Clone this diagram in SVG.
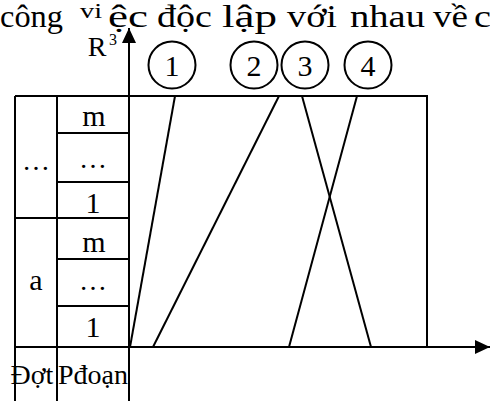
<svg xmlns="http://www.w3.org/2000/svg" width="490" height="401" viewBox="0 0 490 401">
<style>
.t{font-family:"Liberation Serif","Times New Roman",serif;fill:#000;font-size:30px;text-anchor:middle}
.s{font-size:28px}
.h{font-family:"Liberation Serif","Times New Roman",serif;fill:#000;font-size:31px}
.ln{stroke:#000;stroke-width:2;fill:none}
.c{stroke:#000;stroke-width:2;fill:none}
</style>
<defs>
<marker id="ah" markerWidth="15" markerHeight="14" refX="15" refY="7" orient="auto" markerUnits="userSpaceOnUse"><path d="M0,0 L15,7 L0,14 z" fill="#000"/></marker>
</defs>
<rect width="490" height="401" fill="#fff"/>
<g id="header">
<text class="h" x="0" y="27" textLength="63" lengthAdjust="spacingAndGlyphs">công</text>
<text class="h" x="80" y="18" style="font-size:20px" textLength="22" lengthAdjust="spacingAndGlyphs">vi</text>
<text class="h" x="108" y="27" textLength="40" lengthAdjust="spacingAndGlyphs">ệc</text>
<text class="h" x="157" y="27" textLength="55" lengthAdjust="spacingAndGlyphs">độc</text>
<text class="h" x="222" y="27" textLength="55" lengthAdjust="spacingAndGlyphs">lập</text>
<text class="h" x="287" y="27" textLength="50" lengthAdjust="spacingAndGlyphs">với</text>
<text class="h" x="350" y="27" textLength="75" lengthAdjust="spacingAndGlyphs">nhau</text>
<text class="h" x="433" y="27" textLength="35" lengthAdjust="spacingAndGlyphs">về</text>
<text class="h" x="474" y="27" textLength="17" lengthAdjust="spacingAndGlyphs">c</text>
</g>
<g id="table">
<path class="ln" d="M15,96 H427 V347 M15,96 V401 M57,96 V401 M129,347 V401 M57,133 H129 M57,182 H129 M15,218 H129 M57,259 H129 M57,306 H129"/>
<text class="t" x="94" y="126">m</text>
<text class="t s" x="93" y="168">…</text>
<text class="t" x="93" y="213">1</text>
<text class="t" x="94" y="252">m</text>
<text class="t s" x="93" y="290">…</text>
<text class="t" x="93" y="337">1</text>
<text class="t s" x="36" y="170">…</text>
<text class="t" x="36" y="290">a</text>
<text class="t s" x="32" y="384">Đợt</text>
<text class="t s" x="93" y="384">Pđoạn</text>
</g>
<g id="axis-label">
<text class="t" x="97" y="56" style="font-size:28px">R</text>
<text class="t" x="113" y="45" style="font-size:16px">3</text>
</g>
<g id="job1"><circle class="c" cx="172" cy="65" r="23.5"/><text class="t" x="172" y="76">1</text></g>
<g id="job2"><circle class="c" cx="254" cy="65" r="23.5"/><text class="t" x="254" y="76">2</text></g>
<g id="job3"><circle class="c" cx="305" cy="65" r="23.5"/><text class="t" x="305" y="76">3</text></g>
<g id="job4"><circle class="c" cx="368" cy="65" r="23.5"/><text class="t" x="368" y="76">4</text></g>
<g id="connectors">
<line class="ln" x1="129" y1="347" x2="129" y2="28" marker-end="url(#ah)"/>
<line class="ln" x1="15" y1="347" x2="490" y2="347" marker-end="url(#ah)"/>
<line class="ln" x1="175" y1="96" x2="130" y2="347"/>
<line class="ln" x1="279" y1="96" x2="153" y2="347"/>
<line class="ln" x1="302" y1="96" x2="371" y2="347"/>
<line class="ln" x1="357" y1="96" x2="289" y2="347"/>
</g>
</svg>
